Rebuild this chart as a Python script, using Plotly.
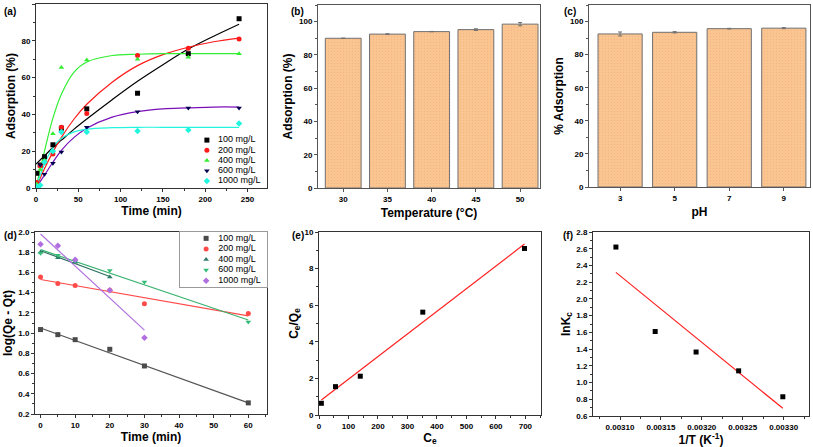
import plotly.graph_objects as go

W, H = 813, 447

# ---------- (a) data ----------
t_a = [1, 5, 10, 20, 30, 60, 120, 180, 240]
a100 = [8, 12.5, 17, 23.5, 32.5, 43, 51.5, 73, 92]
a200 = [3, 12, 14, 18.5, 33, 40.5, 72, 76, 81]
a400 = [2, 10, 15, 29.5, 65.5, 69.5, 70, 71, 73]
a600 = [1, 12.5, 7.5, 13.5, 19.5, 33, 41.5, 43.5, 43.5]
a1000 = [0.5, 1.5, 14, 20, 30.5, 30.5, 31, 31.5, 35]
t_fit = [0, 10, 20, 30, 45, 60, 90, 120, 150, 180, 210, 240]
f100 = [13, 17.5, 22, 26, 32, 37.5, 48, 58, 67, 75.5, 82.5, 89]
f200 = [0, 10.5, 19.5, 27.5, 37.5, 45.5, 57.5, 66.5, 72.5, 76.5, 79.5, 81.5]
f400 = [0, 20, 38, 51, 63, 68.5, 72, 72.7, 73, 73, 73, 73]
f600 = [0, 7, 14, 20.5, 27.5, 32.5, 38.5, 41.5, 43, 43.5, 44, 44]
f1000 = [0, 13, 22, 27, 30.5, 32, 32.8, 33, 33, 33, 33, 33]
legend_names = ["100 mg/L", "200 mg/L", "400 mg/L", "600 mg/L", "1000 mg/L"]

# ---------- (b) data ----------
temps = ["30", "35", "40", "45", "50"]
ads_T = [90.0, 92.5, 94.0, 95.2, 98.5]
err_T = [0.1, 0.2, 0.1, 0.5, 1.0]

# ---------- (c) data ----------
phs = ["3", "5", "7", "9"]
ads_pH = [92.5, 93.5, 95.7, 96.0]
err_pH = [1.2, 0.4, 0.2, 0.3]

# ---------- (d) data ----------
t_d = [0, 5, 10, 20, 30, 60]
d100 = [1.035, 0.985, 0.935, 0.84, 0.675, 0.31]
d200 = [1.555, 1.49, 1.47, 1.425, 1.29, 1.195]
t_d400 = [0, 5, 10, 20]
d400 = [1.80, 1.745, 1.70, 1.555]
d600 = [1.79, 1.77, 1.71, 1.62, 1.505, 1.11]
t_d1000 = [0, 5, 10, 20, 30]
d1000 = [1.88, 1.865, 1.725, 1.425, 0.955]
l100_x, l100_y = [0, 60], [1.05, 0.31]
l200_x, l200_y = [0, 60], [1.53, 1.17]
l400_x, l400_y = [0, 20], [1.815, 1.56]
l600_x, l600_y = [0, 60], [1.825, 1.13]
l1000_x, l1000_y = [0, 30], [1.98, 1.03]

# ---------- (e) data ----------
Ce = [8, 56, 140, 352, 697]
CeQe = [0.64, 1.55, 2.12, 5.62, 9.1]
le_x, le_y = [8, 697], [0.82, 9.34]

# ---------- (f) data ----------
invT = [0.003095, 0.003143, 0.003193, 0.003245, 0.003299]
lnKc = [2.62, 1.61, 1.365, 1.14, 0.83]
lf_x, lf_y = [0.003095, 0.003299], [2.317, 0.692]

FONT = "Liberation Sans, Arial, sans-serif"


def dom_x(a, b):
    return [a / W, b / W]


def dom_y(top, bot):
    return [1 - bot / H, 1 - top / H]


fig = go.Figure()

# (a)
series_a = [
    (a100, f100, "#000000", "#000000", "square"),
    (a200, f200, "#ff1a1a", "#ff1a1a", "circle"),
    (a400, f400, "#33ee33", "#33ee33", "triangle-up"),
    (a600, f600, "#000050", "#7a0fb8", "triangle-down"),
    (a1000, f1000, "#22f5dd", "#22f5dd", "diamond"),
]
for ys, fs, mc, lc, sym in series_a:
    fig.add_trace(go.Scatter(x=t_fit, y=fs, mode="lines", line=dict(color=lc, width=1.2, shape="spline"),
                             xaxis="x", yaxis="y", showlegend=False, hoverinfo="skip"))
for name, (ys, fs, mc, lc, sym) in zip(legend_names, series_a):
    fig.add_trace(go.Scatter(x=t_a, y=ys, mode="markers", name=name,
                             marker=dict(color=mc, symbol=sym, size=5),
                             xaxis="x", yaxis="y", showlegend=False))

# legend (a) drawn on its own small axis
rows = list(range(len(legend_names)))
for i, (ys, fs, mc, lc, sym) in enumerate(series_a):
    fig.add_trace(go.Scatter(x=[0.17], y=[rows[i]], mode="markers", marker=dict(color=mc, symbol=sym, size=5),
                             xaxis="x7", yaxis="y7", showlegend=False, hoverinfo="skip"))
fig.add_trace(go.Scatter(x=[0.33] * len(rows), y=rows, mode="text", text=legend_names,
                         textposition="middle right", textfont=dict(family=FONT, size=9, color="#000000"),
                         xaxis="x7", yaxis="y7", showlegend=False, hoverinfo="skip", cliponaxis=False))

# (b)
bar_marker = dict(color="#fbc592", line=dict(color="#707070", width=1),
                  pattern=dict(shape=".", size=3, solidity=0.15, fgcolor="#e9a877", bgcolor="#fbc592"))
fig.add_trace(go.Bar(x=temps, y=ads_T, width=0.81, xaxis="x2", yaxis="y2", showlegend=False,
                     marker=bar_marker,
                     error_y=dict(type="data", array=err_T, color="#707070", thickness=1, width=2)))

# (c)
fig.add_trace(go.Bar(x=phs, y=ads_pH, width=0.81, xaxis="x3", yaxis="y3", showlegend=False,
                     marker=bar_marker,
                     error_y=dict(type="data", array=err_pH, color="#707070", thickness=1, width=2)))

# (d)
series_d = [
    (t_d, d100, l100_x, l100_y, "#4a4a4a", "#555555", "square"),
    (t_d, d200, l200_x, l200_y, "#ff4a4a", "#ff4a4a", "circle"),
    (t_d400, d400, l400_x, l400_y, "#2e7a68", "#2e6e60", "triangle-up"),
    (t_d, d600, l600_x, l600_y, "#33bb77", "#3cb371", "triangle-down"),
    (t_d1000, d1000, l1000_x, l1000_y, "#b06ee0", "#b070e0", "diamond"),
]
for xs, ys, lx, ly, mc, lc, sym in series_d:
    fig.add_trace(go.Scatter(x=lx, y=ly, mode="lines", line=dict(color=lc, width=1.2),
                             xaxis="x4", yaxis="y4", showlegend=False, hoverinfo="skip"))
for name, (xs, ys, lx, ly, mc, lc, sym) in zip(legend_names, series_d):
    fig.add_trace(go.Scatter(x=xs, y=ys, mode="markers", name=name,
                             marker=dict(color=mc, symbol=sym, size=5),
                             xaxis="x4", yaxis="y4", showlegend=False))
# legend (d)
for i, (xs, ys, lx, ly, mc, lc, sym) in enumerate(series_d):
    fig.add_trace(go.Scatter(x=[0.3], y=[rows[i]], mode="markers", marker=dict(color=mc, symbol=sym, size=5),
                             xaxis="x8", yaxis="y8", showlegend=False, hoverinfo="skip"))
fig.add_trace(go.Scatter(x=[0.44] * len(rows), y=rows, mode="text", text=legend_names,
                         textposition="middle right", textfont=dict(family=FONT, size=9, color="#000000"),
                         xaxis="x8", yaxis="y8", showlegend=False, hoverinfo="skip", cliponaxis=False))

# (e)
fig.add_trace(go.Scatter(x=le_x, y=le_y, mode="lines", line=dict(color="#ff2020", width=1.2),
                         xaxis="x5", yaxis="y5", showlegend=False))
fig.add_trace(go.Scatter(x=Ce, y=CeQe, mode="markers", marker=dict(color="#000000", symbol="square", size=5),
                         xaxis="x5", yaxis="y5", showlegend=False))

# (f)
fig.add_trace(go.Scatter(x=lf_x, y=lf_y, mode="lines", line=dict(color="#ff2020", width=1.2),
                         xaxis="x6", yaxis="y6", showlegend=False))
fig.add_trace(go.Scatter(x=invT, y=lnKc, mode="markers", marker=dict(color="#000000", symbol="square", size=5),
                         xaxis="x6", yaxis="y6", showlegend=False))

tickfont = dict(family=FONT, size=8, color="#000000", weight="bold")
titlefont = dict(family=FONT, size=12, color="#000000", weight="bold")


def ax(domain, rng, anchor, title, dtick=None, minor_dtick=None, tick0=None, fmt=None, lc="#333333",
       standoff=4, cat=False):
    d = dict(domain=domain, range=rng, anchor=anchor, showline=True, mirror=True, linecolor=lc,
             linewidth=1, ticks="outside", ticklen=3, tickwidth=1, tickcolor=lc, showgrid=False,
             zeroline=False, tickfont=tickfont, title=dict(text=title, font=titlefont, standoff=standoff),
             fixedrange=True, automargin=False)
    if cat:
        d["type"] = "category"
    else:
        if dtick is not None:
            d["dtick"] = dtick
        if tick0 is not None:
            d["tick0"] = tick0
        if minor_dtick is not None:
            d["minor"] = dict(dtick=minor_dtick, ticks="outside", ticklen=2, tickcolor=lc, showgrid=False)
        if fmt:
            d["tickformat"] = fmt
    return d


def hidden(domain, rng, anchor, line=False):
    return dict(domain=domain, range=rng, anchor=anchor, visible=True, showline=line, mirror=line,
                linecolor="#9a9a9a", linewidth=0.8, showticklabels=False, ticks="", showgrid=False,
                zeroline=False, fixedrange=True)


fig.update_layout(
    width=W, height=H, margin=dict(l=0, r=0, t=0, b=0),
    paper_bgcolor="white", plot_bgcolor="rgba(0,0,0,0)",
    font=dict(family=FONT, size=8, color="#000000"),
    xaxis=ax(dom_x(36, 267), [0, 273], "y", "Time (min)", 50, 25, 0, standoff=3),
    yaxis=ax(dom_y(4, 188), [0, 100], "x", "Adsorption (%)", 20, 10, 0, standoff=3),
    xaxis2=ax(dom_x(318, 540), [-0.57, 4.45], "y2", "Temperature (°C)", cat=True, lc="#555555", standoff=6),
    yaxis2=ax(dom_y(5, 188), [0, 110], "x2", "Adsorption (%)", 20, 10, 0, lc="#555555", standoff=3),
    xaxis3=ax(dom_x(589, 810), [-0.57, 3.48], "y3", "pH", cat=True, lc="#555555", standoff=6),
    yaxis3=ax(dom_y(5, 187), [0, 110], "x3", "% Adsorption", 20, 10, 0, lc="#555555", standoff=3),
    xaxis4=ax(dom_x(35, 267), [-1.6, 65.4], "y4", "Time (min)", 10, 5, 0, standoff=3),
    yaxis4=ax(dom_y(232, 414), [0.2, 2.0], "x4", "log(Qe - Qt)", 0.2, 0.1, 0.2, ".1f", standoff=3),
    xaxis5=ax(dom_x(319, 541), [0, 753], "y5", "C<sub>e</sub>", 100, 50, 0, standoff=3),
    yaxis5=ax(dom_y(232, 415), [0, 10], "x5", "C<sub>e</sub>/Q<sub>e</sub>", 2, 1, 0, standoff=3),
    xaxis6=ax(dom_x(593, 809), [0.003067, 0.003331], "y6", "1/T (K<sup>-1</sup>)", 0.00005, 0.000025, 0.0031, ".5f",
              standoff=3),
    yaxis6=ax(dom_y(232, 416), [0.6, 2.8], "x6", "lnK<sub>c</sub>", 0.2, 0.1, 0.6, ".1f", standoff=3),
    xaxis7=hidden(dom_x(195, 265), [0, 1], "y7"),
    yaxis7=hidden(dom_y(135, 187), [4.6, -0.5], "x7"),
    xaxis8=hidden(dom_x(180, 267), [0, 1], "y8", line=True),
    yaxis8=hidden(dom_y(232, 287), [4.6, -0.6], "x8", line=True),
)

labels = [("(a)", 2, 4), ("(b)", 289, 4), ("(c)", 562, 4), ("(d)", 2, 228), ("(e)", 290, 228), ("(f)", 561, 228)]
for txt, x, y in labels:
    fig.add_annotation(text="<b>%s</b>" % txt, x=x / W, y=1 - y / H, xref="paper", yref="paper",
                       xanchor="left", yanchor="top", showarrow=False,
                       font=dict(family=FONT, size=10, color="#000000"))

fig.write_html("out.html", config=dict(displayModeBar=False),
               post_script="document.body.style.margin='0';document.body.style.padding='0';")
